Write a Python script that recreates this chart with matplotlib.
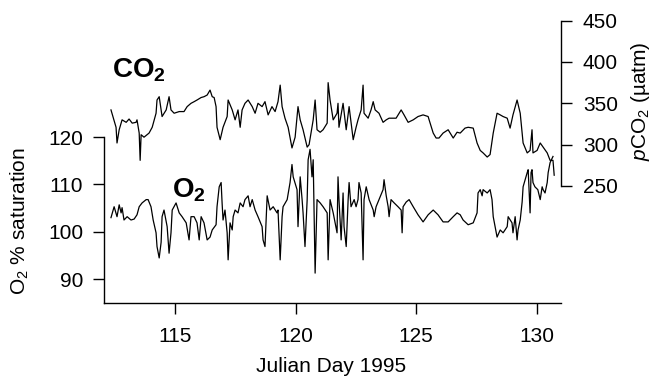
import matplotlib
matplotlib.use("Agg")
import matplotlib.pyplot as plt

plt.rcParams['font.family'] = ['Liberation Sans', 'DejaVu Sans']
plt.rcParams['mathtext.fontset'] = 'custom'
plt.rcParams['mathtext.rm'] = 'Liberation Sans'
plt.rcParams['mathtext.it'] = 'Liberation Sans:italic'
plt.rcParams['mathtext.bf'] = 'Liberation Sans:bold'

# ---- data (Julian day, value) ----
co2_day = [112.34, 112.55, 112.59, 112.68, 112.80, 112.97, 113.09, 113.22, 113.38, 113.42,
           113.51, 113.55, 113.59, 113.71, 113.92, 114.05, 114.21, 114.25, 114.34, 114.42,
           114.46, 114.63, 114.75, 114.83, 114.96, 115.17, 115.37, 115.50, 115.66, 115.79,
           115.91, 116.08, 116.20, 116.33, 116.45, 116.54, 116.62, 116.70, 116.74, 116.87,
           116.99, 117.16, 117.20, 117.37, 117.49, 117.61, 117.70, 117.78, 117.90, 118.03,
           118.20, 118.32, 118.44, 118.61, 118.73, 118.86, 119.02, 119.15, 119.27, 119.36,
           119.44, 119.56, 119.69, 119.85, 119.98, 120.10, 120.19, 120.31, 120.48, 120.56,
           120.73, 120.81, 120.89, 121.02, 121.14, 121.31, 121.35, 121.43, 121.56, 121.72,
           121.76, 121.80, 121.97, 122.10, 122.22, 122.39, 122.51, 122.59, 122.72, 122.80,
           122.84, 123.01, 123.13, 123.22, 123.30, 123.46, 123.63, 123.76, 123.88, 124.17,
           124.38, 124.50, 124.67, 124.88, 125.08, 125.29, 125.50, 125.54, 125.71, 125.83,
           125.95, 126.12, 126.33, 126.54, 126.70, 126.83, 127.03, 127.16, 127.37, 127.53,
           127.66, 127.78, 127.95, 128.07, 128.20, 128.36, 128.49, 128.61, 128.78, 128.90,
           129.02, 129.19, 129.32, 129.44, 129.61, 129.73, 129.81, 129.85, 130.02, 130.15,
           130.27, 130.44, 130.56, 130.68, 130.73]
co2_val = [342, 321, 302, 318, 330, 327, 331, 326, 327, 330,
           314, 281, 312, 309, 314, 321, 338, 354, 358, 342,
           334, 342, 358, 342, 338, 340, 340, 346, 350, 352,
           354, 357, 358, 360, 366, 358, 357, 346, 321, 306,
           321, 334, 354, 342, 330, 342, 321, 342, 350, 354,
           346, 338, 350, 346, 352, 336, 346, 340, 352, 372,
           346, 332, 321, 296, 309, 346, 330, 318, 297, 300,
           330, 354, 318, 315, 318, 326, 375, 354, 330, 338,
           350, 321, 350, 318, 346, 306, 321, 330, 342, 372,
           338, 332, 342, 352, 342, 338, 327, 330, 332, 332,
           342, 336, 327, 330, 334, 336, 334, 330, 314, 308,
           308, 314, 318, 308, 315, 314, 320, 321, 320, 302,
           293, 290, 285, 288, 314, 338, 336, 334, 332, 320,
           336, 354, 338, 302, 290, 293, 318, 290, 293, 302,
           297, 290, 281, 281, 263]

o2_day = [112.34, 112.47, 112.59, 112.68, 112.76, 112.80, 112.88, 113.01, 113.17, 113.30,
          113.42, 113.51, 113.63, 113.80, 113.88, 114.00, 114.09, 114.21, 114.25, 114.34,
          114.42, 114.46, 114.54, 114.67, 114.75, 114.83, 114.88, 115.04, 115.17, 115.29,
          115.46, 115.58, 115.66, 115.79, 115.91, 116.00, 116.08, 116.20, 116.33, 116.45,
          116.54, 116.70, 116.74, 116.83, 116.91, 116.95, 116.99, 117.07, 117.16, 117.20,
          117.28, 117.37, 117.41, 117.49, 117.61, 117.70, 117.82, 117.90, 118.03, 118.11,
          118.20, 118.32, 118.44, 118.61, 118.65, 118.73, 118.82, 118.94, 119.07, 119.23,
          119.27, 119.36, 119.44, 119.48, 119.65, 119.77, 119.85, 119.90, 120.06, 120.10,
          120.19, 120.27, 120.31, 120.39, 120.48, 120.52, 120.60, 120.68, 120.73, 120.81,
          120.89, 121.02, 121.14, 121.31, 121.35, 121.43, 121.56, 121.72, 121.76, 121.80,
          121.89, 121.97, 122.01, 122.10, 122.18, 122.22, 122.30, 122.43, 122.51, 122.59,
          122.63, 122.72, 122.80, 122.84, 122.93, 123.05, 123.22, 123.26, 123.34, 123.46,
          123.63, 123.67, 123.76, 123.84, 123.88, 123.96, 124.09, 124.25, 124.38, 124.42,
          124.46, 124.59, 124.71, 124.88, 125.08, 125.29, 125.50, 125.71, 125.91, 126.12,
          126.33, 126.54, 126.70, 126.83, 126.95, 127.16, 127.37, 127.53, 127.57, 127.66,
          127.74, 127.78, 127.95, 128.07, 128.15, 128.20, 128.36, 128.49, 128.61, 128.78,
          128.82, 128.98, 129.02, 129.11, 129.19, 129.23, 129.32, 129.40, 129.44, 129.61,
          129.65, 129.73, 129.77, 129.81, 129.85, 129.93, 130.05, 130.15, 130.23, 130.27,
          130.35, 130.44, 130.48, 130.56, 130.68]
o2_val = [103.0, 105.3, 103.2, 105.7, 104.0, 105.1, 102.5, 103.2, 102.5, 102.7,
          103.6, 105.3, 106.1, 106.8, 106.8, 105.3, 102.5, 99.8, 96.9, 94.5,
          97.8, 103.2, 104.6, 101.1, 95.5, 99.8, 104.6, 106.1, 104.0, 103.2,
          101.9, 98.3, 103.2, 103.2, 101.9, 98.3, 103.2, 101.9, 98.3, 98.9,
          100.4, 101.5, 105.3, 109.5, 110.4, 106.1, 102.5, 104.6, 99.8, 94.1,
          101.9, 100.4, 103.2, 104.6, 104.0, 106.1, 105.3, 106.8, 107.6, 105.3,
          106.8, 104.6, 103.2, 101.1, 98.3, 96.9, 107.6, 104.6, 105.3, 104.0,
          104.6, 94.1, 103.2, 105.3, 106.8, 110.4, 114.2, 111.6, 108.9, 101.1,
          111.6, 106.8, 104.0, 96.9, 106.8, 115.2, 117.4, 111.6, 115.2, 91.3,
          106.8, 106.1, 105.3, 104.0, 94.1, 106.8, 104.0, 99.8, 111.6, 106.8,
          98.3, 108.2, 101.1, 96.9, 106.8, 110.4, 105.3, 106.8, 105.3, 106.8,
          110.4, 108.2, 94.1, 106.8, 109.5, 106.8, 104.6, 103.2, 105.3, 106.8,
          108.9, 111.0, 107.6, 105.3, 103.2, 106.8, 106.1, 105.3, 104.6, 99.8,
          105.3, 106.3, 106.8, 105.3, 103.6, 102.1, 103.6, 104.6, 103.6, 102.1,
          102.1, 103.2, 104.0, 103.6, 102.5, 101.5, 101.9, 104.0, 108.2, 108.9,
          107.6, 108.9, 108.2, 108.9, 106.8, 103.2, 98.9, 100.4, 99.8, 101.1,
          103.2, 101.9, 99.8, 103.2, 98.3, 100.4, 102.5, 106.3, 109.5, 112.5,
          113.1, 104.0, 112.5, 113.1, 110.4, 109.5, 108.9, 106.8, 109.5, 108.9,
          108.2, 110.4, 112.5, 114.6, 115.9]

x_ticks = [115, 120, 125, 130]
o2_ticks = [90, 100, 110, 120]
co2_ticks = [250, 300, 350, 400, 450]

W, H = 651, 380
fig = plt.figure(figsize=(W / 100, H / 100), dpi=100)
ax = fig.add_axes([104 / W, 1 - 303 / H, (560.7 - 104) / W, (303 - 20) / H])
ax2 = ax.twinx()

ax.plot(o2_day, o2_val, color='black', lw=0.9)
ax2.plot(co2_day, co2_val, color='black', lw=0.9)

ax.set_xlim(112.05, 131.0)
ax.set_ylim(85.0, 144.67)
ax2.set_ylim(108.4, 450.8)

for a in (ax, ax2):
    a.spines['top'].set_visible(False)
    a.patch.set_visible(False)
ax.spines['right'].set_visible(False)
ax2.spines['left'].set_visible(False)
ax2.spines['bottom'].set_visible(False)
ax.spines['left'].set_bounds(85, 120)
ax2.spines['right'].set_bounds(250, 450)

fs = 15
ax.set_xticks(x_ticks)
ax.set_yticks(o2_ticks)
ax2.set_yticks(co2_ticks)
ax.tick_params(axis='x', direction='out', length=8, width=1, pad=9, labelsize=fs)
ax.tick_params(axis='y', direction='out', length=8, width=1, pad=7, labelsize=fs)
ax2.tick_params(axis='y', direction='out', length=8, width=1, pad=8, labelsize=fs)
for a in (ax, ax2):
    for s in a.spines.values():
        s.set_linewidth(1)

fig.text(331 / W, 1 - 367 / H, 'Julian Day 1995', ha='center', va='center', fontsize=fs)
fig.text(20 / W, 1 - 221 / H, r'O$_2$ % saturation', ha='center', va='center',
         rotation=90, fontsize=fs)
fig.text(640 / W, 1 - 101 / H, r'$\mathit{p}$CO$_2$ (µatm)', ha='center', va='center',
         rotation=90, fontsize=fs)
fig.text(112 / W, 1 - 77 / H, r'$\mathbf{CO_2}$', ha='left', va='baseline', fontsize=20)
fig.text(172 / W, 1 - 198 / H, r'$\mathbf{O_2}$', ha='left', va='baseline', fontsize=20)

fig.savefig('out.png', dpi=100)
